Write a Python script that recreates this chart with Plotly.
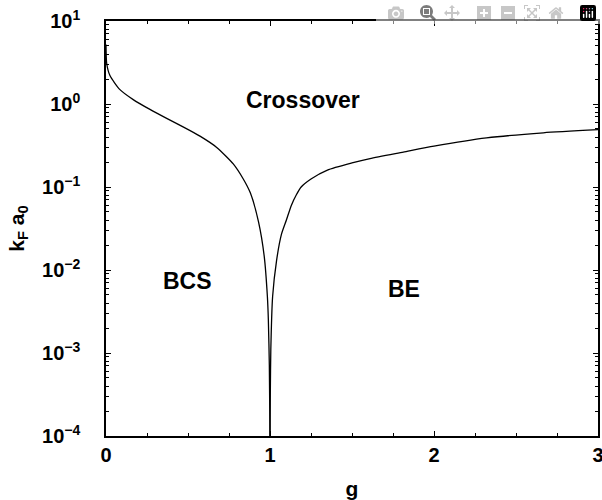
import plotly.graph_objects as go
import math

# BCS side branch (g < 1)
g_left = [0.0, 0.004, 0.024, 0.085, 0.166, 0.268, 0.37, 0.47, 0.573, 0.675,
          0.776, 0.837, 0.88, 0.93, 0.965, 0.984, 0.99, 0.996, 1.0]
k_left = [5.2, 3.1, 2.2, 1.49, 1.13, 0.86, 0.67, 0.53, 0.41, 0.30,
          0.19, 0.125, 0.085, 0.038, 0.0145, 0.0048, 0.0025, 0.0007, 1e-4]

# BE side branch (g > 1)
g_right = [1.0, 1.002, 1.005, 1.016, 1.04, 1.07, 1.10, 1.13, 1.16, 1.19, 1.25, 1.35,
           1.5, 1.61, 1.813, 2.0, 2.32, 2.667, 3.0]
k_right = [1e-4, 3.4e-4, 0.0011, 0.0048, 0.013, 0.027, 0.040, 0.060, 0.080, 0.10, 0.125, 0.16,
           0.195, 0.22, 0.263, 0.31, 0.39, 0.45, 0.49]

y_tickvals = [1e-4, 1e-3, 1e-2, 1e-1, 1e0, 1e1]
y_ticktext = ["10<sup>−4</sup>", "10<sup>−3</sup>", "10<sup>−2</sup>",
              "10<sup>−1</sup>", "10<sup>0</sup>", "10<sup>1</sup>"]
y_minor = [m * 10.0 ** e for e in range(-4, 1) for m in range(2, 10)]
x_tickvals = [0, 1, 2, 3]
x_ticktext = ["0", "1", "2", "3"]
x_minor = [0.25, 0.5, 0.75, 1.25, 1.5, 1.75, 2.25, 2.5, 2.75]

regions = ["Crossover", "BCS", "BE"]
region_g = [1.2, 0.495, 1.82]
region_k = [1.13, 0.0073, 0.0059]

FONT = "Liberation Sans, Arial, Helvetica, sans-serif"

fig = go.Figure()
for gx, ky in [(g_left, k_left), (g_right, k_right)]:
    fig.add_trace(go.Scatter(x=gx, y=ky, mode="lines",
                             line=dict(color="black", width=1.3, shape="spline", smoothing=0.6),
                             showlegend=False, hoverinfo="skip"))

for t, gx, ky in zip(regions, region_g, region_k):
    fig.add_annotation(x=gx, y=math.log10(ky), text=t, showarrow=False,
                       font=dict(family=FONT, size=23, color="black", weight="bold"))

fig.update_layout(
    width=602, height=500,
    margin=dict(l=106, r=4, t=21, b=64),
    paper_bgcolor="white", plot_bgcolor="white",
    font=dict(family=FONT, size=20, color="black", weight="bold"),
    xaxis=dict(range=[0, 3], tickvals=x_tickvals, ticktext=x_ticktext, automargin=False,
               ticks="inside", ticklen=5, tickwidth=1, tickcolor="black",
               showline=True, linecolor="black", linewidth=1.5, mirror="allticks",
               showgrid=False, zeroline=False, tickfont=dict(size=20),
               ticklabeloverflow="allow",
               minor=dict(tickvals=x_minor, ticks="inside", ticklen=3, tickcolor="black", showgrid=False),
               title=dict(text="g", standoff=18, font=dict(size=21, weight="bold"))),
    yaxis=dict(type="log", range=[-4, 1], tickvals=y_tickvals, ticktext=y_ticktext, automargin=False,
               ticks="inside", ticklen=5, tickwidth=1, tickcolor="black",
               showline=True, linecolor="black", linewidth=1.5, mirror="allticks",
               showgrid=False, zeroline=False, ticklabelstandoff=20, tickfont=dict(size=20),
               ticklabeloverflow="allow",
               minor=dict(tickvals=y_minor, ticks="inside", ticklen=3, tickcolor="black", showgrid=False),
               title=dict(text="k<sub>F</sub> a<sub>0</sub>", standoff=12,
                          font=dict(size=21, weight="bold"))),
)

# remove the default page margin so the figure sits at the window's top-left corner
fig.write_html("out.html",
               post_script="document.body.style.margin='0';document.body.style.overflow='hidden';")
